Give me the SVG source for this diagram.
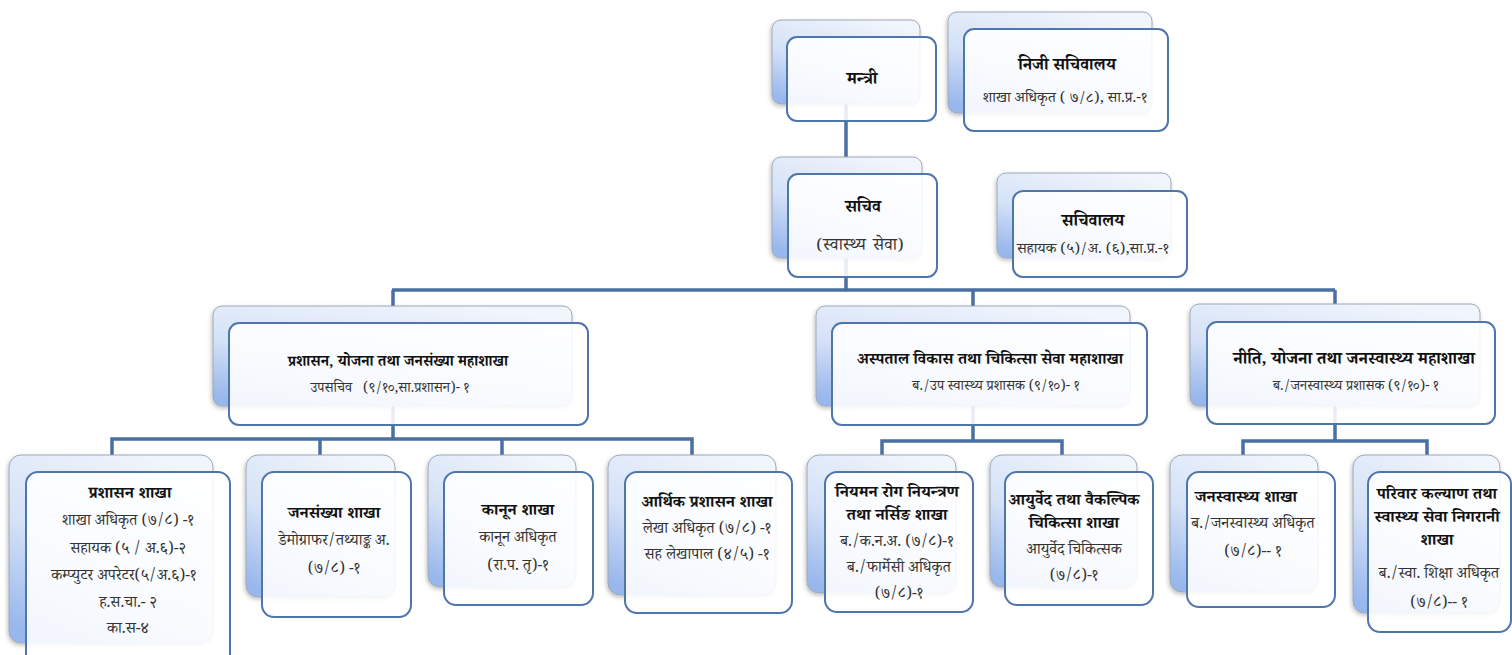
<svg xmlns="http://www.w3.org/2000/svg" width="1512" height="655" viewBox="0 0 1512 655">
<defs>
<linearGradient id="bg" x1="0.7" y1="0" x2="0.2" y2="1">
<stop offset="0" stop-color="#f1f5fc"/>
<stop offset="0.55" stop-color="#d4e1f7"/>
<stop offset="1" stop-color="#98b7ec"/>
</linearGradient>
<filter id="sh" x="-10%" y="-10%" width="125%" height="130%">
<feDropShadow dx="-1" dy="2" stdDeviation="2" flood-color="#000" flood-opacity="0.25"/>
</filter>
</defs>
<style>
.back{fill:url(#bg);stroke:#9ea8b8;stroke-width:1;filter:url(#sh)}
.front{fill:#ffffff;fill-opacity:0.88;stroke:#4f76ab;stroke-width:2}
.conn{fill:none;stroke:#4a6fa3;stroke-width:3.5;stroke-linejoin:miter}
text{font-family:"Noto Serif Devanagari","Noto Sans Devanagari","Lohit Devanagari","FreeSerif","Noto Sans",serif;text-anchor:middle;fill:#222}
.h{font-weight:bold;font-size:17px;fill:#111}
.hm{font-weight:bold;font-size:16px;fill:#111}
.hb{font-weight:bold;font-size:16.5px;fill:#111}
.s{font-size:14px;fill:#333}
.st{font-size:15px;fill:#333}
.sb{font-size:15.5px;fill:#333}
</style>
<rect width="1512" height="655" fill="#ffffff"/>
<g id="connectors">
<path class="conn" d="M846,62 V290 M392,290 H1335 M393,290 V439 M973,290 V441 M1335,290 V441"/>
<path class="conn" d="M112,456 V439 H692 V456 M320,439 V456 M502,439 V456"/>
<path class="conn" d="M882,456 V441 H1062 V456"/>
<path class="conn" d="M1243,456 V441 H1427 V456"/>
</g>
<g id="mantri">
<rect class="back" x="772" y="20" width="148" height="84" rx="9"/>
<rect class="front" x="787" y="37" width="149" height="84" rx="10"/>
<text class="h" x="862" y="84">मन्त्री</text>
</g>
<g id="niji-sachivalaya">
<rect class="back" x="948" y="12" width="204" height="101" rx="9"/>
<rect class="front" x="964" y="29" width="204" height="102" rx="10"/>
<text class="h" x="1067" y="70">निजी सचिवालय</text>
<text class="st" x="1065" y="102">शाखा अधिकृत ( ७/८), सा.प्र.-१</text>
</g>
<g id="sachiv">
<rect class="back" x="772" y="157" width="150" height="101" rx="9"/>
<rect class="front" x="788" y="174" width="149" height="103" rx="10"/>
<text class="h" x="863" y="212">सचिव</text>
<text x="860" y="250" style="font-size:17px;fill:#333;word-spacing:3px">(स्वास्थ्य सेवा)</text>
</g>
<g id="sachivalaya">
<rect class="back" x="997" y="173" width="174" height="85" rx="9"/>
<rect class="front" x="1013" y="191" width="174" height="86" rx="10"/>
<text class="h" x="1093" y="226">सचिवालय</text>
<text class="st" x="1093" y="253">सहायक (५)/अ. (६),सा.प्र.-१</text>
</g>
<g id="prashasan-mahashakha">
<rect class="back" x="213" y="306" width="359" height="100" rx="9"/>
<rect class="front" x="229" y="323" width="359" height="102" rx="10"/>
<text x="398" y="366" style="font-weight:bold;font-size:15px;fill:#111">प्रशासन, योजना तथा जनसंख्या महाशाखा</text>
<text class="s" x="390" y="392" xml:space="preserve">उपसचिव   (९/१०,सा.प्रशासन)- १</text>
</g>
<g id="aspatal-mahashakha">
<rect class="back" x="816" y="306" width="314" height="100" rx="9"/>
<rect class="front" x="832" y="323" width="315" height="102" rx="10"/>
<text class="hm" x="990" y="364">अस्पताल विकास तथा चिकित्सा सेवा महाशाखा</text>
<text class="s" x="996" y="390">ब./उप स्वास्थ्य प्रशासक (९/१०)- १</text>
</g>
<g id="niti-mahashakha">
<rect class="back" x="1190" y="304" width="290" height="102" rx="9"/>
<rect class="front" x="1207" y="322" width="288" height="102" rx="10"/>
<text class="h" x="1354" y="364">नीति, योजना तथा जनस्वास्थ्य महाशाखा</text>
<text class="s" x="1356" y="390">ब./जनस्वास्थ्य प्रशासक (९/१०)- १</text>
</g>
<g id="prashasan-shakha">
<rect class="back" x="9" y="455" width="204" height="188" rx="12"/>
<rect class="front" x="26" y="472" width="204" height="195" rx="12"/>
<text class="hb" x="130" y="498">प्रशासन शाखा</text>
<text class="sb" x="128" y="525">शाखा अधिकृत (७/८) -१</text>
<text class="sb" x="128" y="553">सहायक (५ / अ.६)-२</text>
<text class="sb" x="124" y="580">कम्प्युटर अपरेटर(५/अ.६)-१</text>
<text class="sb" x="128" y="607">ह.स.चा.- २</text>
<text class="sb" x="128" y="633">का.स-४</text>
</g>
<g id="jansankhya-shakha">
<rect class="back" x="246" y="455" width="149" height="142" rx="12"/>
<rect class="front" x="262" y="472" width="149" height="145" rx="12"/>
<text class="hb" x="334" y="518">जनसंख्या शाखा</text>
<text class="sb" x="334" y="545">डेमोग्राफर/तथ्याङ्क अ.</text>
<text class="sb" x="334" y="573">(७/८) -१</text>
</g>
<g id="kanoon-shakha">
<rect class="back" x="428" y="455" width="148" height="132" rx="12"/>
<rect class="front" x="444" y="472" width="149" height="133" rx="12"/>
<text class="hb" x="518" y="515">कानून शाखा</text>
<text class="sb" x="518" y="542">कानून अधिकृत</text>
<text class="sb" x="518" y="570">(रा.प. तृ)-१</text>
</g>
<g id="arthik-shakha">
<rect class="back" x="608" y="455" width="168" height="140" rx="12"/>
<rect class="front" x="625" y="472" width="167" height="141" rx="12"/>
<text class="hb" x="707" y="507">आर्थिक प्रशासन शाखा</text>
<text class="sb" x="707" y="533">लेखा अधिकृत (७/८) -१</text>
<text class="sb" x="707" y="559">सह लेखापाल (४/५) -१</text>
</g>
<g id="niyaman-shakha">
<rect class="back" x="807" y="455" width="149" height="138" rx="12"/>
<rect class="front" x="825" y="472" width="148" height="140" rx="12"/>
<text class="hb" x="897" y="497">नियमन रोग नियन्त्रण</text>
<text class="hb" x="897" y="520">तथा नर्सिङ शाखा</text>
<text class="sb" x="897" y="546">ब./क.न.अ. (७/८)-१</text>
<text class="sb" x="899" y="572">ब./फार्मेसी अधिकृत</text>
<text class="sb" x="899" y="598">(७/८)-१</text>
</g>
<g id="ayurved-shakha">
<rect class="back" x="990" y="455" width="147" height="132" rx="12"/>
<rect class="front" x="1005" y="472" width="148" height="133" rx="12"/>
<text class="hb" x="1074" y="505">आयुर्वेद तथा वैकल्पिक</text>
<text class="hb" x="1074" y="528">चिकित्सा शाखा</text>
<text class="sb" x="1074" y="554">आयुर्वेद चिकित्सक</text>
<text class="sb" x="1074" y="580">(७/८)-१</text>
</g>
<g id="janswasthya-shakha">
<rect class="back" x="1170" y="455" width="148" height="137" rx="12"/>
<rect class="front" x="1187" y="472" width="148" height="135" rx="12"/>
<text class="hb" x="1246" y="502">जनस्वास्थ्य शाखा</text>
<text class="sb" x="1253" y="528">ब./जनस्वास्थ्य अधिकृत</text>
<text class="sb" x="1253" y="556">(७/८)-- १</text>
</g>
<g id="pariwar-shakha">
<rect class="back" x="1353" y="455" width="147" height="158" rx="12"/>
<rect class="front" x="1368" y="472" width="143" height="160" rx="12"/>
<text class="hb" x="1437" y="499">परिवार कल्याण तथा</text>
<text class="hb" x="1437" y="522">स्वास्थ्य सेवा निगरानी</text>
<text class="hb" x="1437" y="545">शाखा</text>
<text class="sb" x="1439" y="578">ब./स्वा. शिक्षा अधिकृत</text>
<text class="sb" x="1439" y="607">(७/८)-- १</text>
</g>
</svg>
